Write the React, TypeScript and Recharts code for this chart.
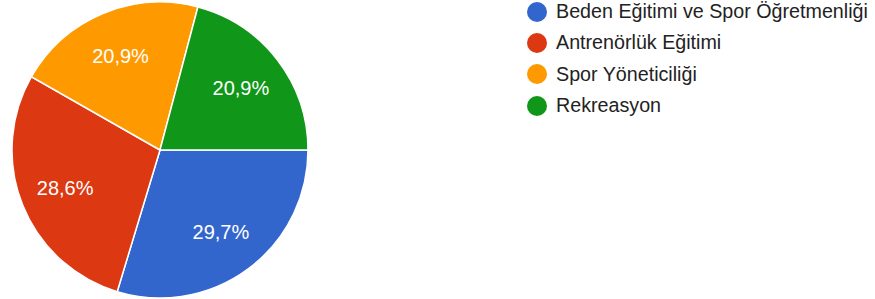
import React from "react";
import { PieChart, Pie, Cell, Legend } from "recharts";

const categories = [
  "Beden Eğitimi ve Spor Öğretmenliği",
  "Antrenörlük Eğitimi",
  "Spor Yöneticiliği",
  "Rekreasyon",
];
const values = [29.7, 28.6, 20.9, 20.9];
const labels = ["29,7%", "28,6%", "20,9%", "20,9%"];
const colors = ["#3366cc", "#dc3912", "#ff9900", "#109618"];

const data = categories.map((name, i) => ({ name, value: values[i], label: labels[i] }));

const RAD = Math.PI / 180;

const renderLabel = (props: any) => {
  const { cx, cy, midAngle, outerRadius, index } = props;
  const r = outerRadius * 0.69;
  const x = cx + r * Math.cos(-midAngle * RAD);
  const y = cy + r * Math.sin(-midAngle * RAD);
  return (
    <text
      x={x}
      y={y}
      fill="#ffffff"
      textAnchor="middle"
      dominantBaseline="central"
      fontFamily="Arial, 'Liberation Sans', sans-serif"
      fontSize={20}
    >
      {labels[index]}
    </text>
  );
};

const renderLegend = () => (
  <div style={{ fontFamily: "Arial, 'Liberation Sans', sans-serif", fontSize: 19.7, color: "#222222", whiteSpace: "nowrap" }}>
    {categories.map((c, i) => (
      <div key={c} style={{ display: "flex", alignItems: "center", height: 31.3 }}>
        <span
          style={{
            display: "inline-block",
            flex: "0 0 auto",
            width: 20,
            height: 20,
            borderRadius: "50%",
            background: colors[i],
            marginRight: 9,
          }}
        />
        <span>{c}</span>
      </div>
    ))}
  </div>
);

export default function App() {
  return (
    <div style={{ position: "absolute", left: 0, top: 0, width: 875, height: 299, background: "#fff" }}>
      <PieChart width={875} height={299} margin={{ top: 0, right: 0, bottom: 0, left: 0 }}>
        <Pie
          data={data}
          dataKey="value"
          cx={160}
          cy={150}
          outerRadius={148}
          startAngle={0}
          endAngle={-360}
          stroke="#ffffff"
          strokeWidth={1.5}
          label={renderLabel}
          labelLine={false}
          isAnimationActive={false}
        >
          {data.map((d, i) => (
            <Cell key={d.name} fill={colors[i]} />
          ))}
        </Pie>
        <Legend
          content={renderLegend}
          layout="vertical"
          verticalAlign="top"
          align="right"
          wrapperStyle={{ position: "absolute", left: 527, top: -4, width: 348 }}
        />
      </PieChart>
    </div>
  );
}
